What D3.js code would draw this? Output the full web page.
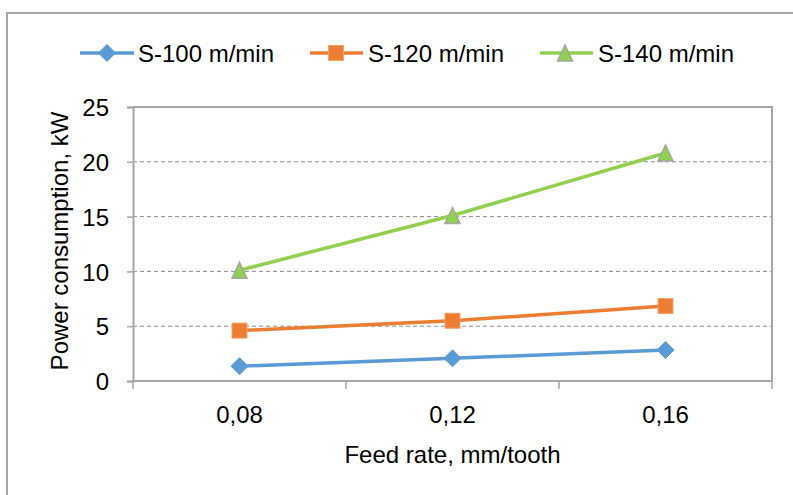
<!DOCTYPE html>
<html>
<head>
<meta charset="utf-8">
<script src="https://cdn.jsdelivr.net/npm/d3@7"></script>
<style>
  html, body { margin: 0; padding: 0; background: #fff; }
  svg { display: block; }
  text { font-family: "Liberation Sans", Arial, sans-serif; fill: #000; }
</style>
</head>
<body>
<svg id="chart" width="793" height="495"></svg>
<script>
const categories = ["0,08", "0,12", "0,16"];
const seriesNames = ["S-100 m/min", "S-120 m/min", "S-140 m/min"];
const s100 = [1.35, 2.07, 2.83];
const s120 = [4.6, 5.5, 6.84];
const s140 = [10.1, 15.1, 20.8];
const yTicks = [0, 5, 10, 15, 20, 25];
const xTitle = "Feed rate, mm/tooth";
const yTitle = "Power consumption, kW";

const series = [
  { name: seriesNames[0], values: s100, color: "#5B9BD5", marker: "diamond", stroke: "#5B9BD5" },
  { name: seriesNames[1], values: s120, color: "#ED7D31", marker: "square", stroke: "#F4A46C" },
  { name: seriesNames[2], values: s140, color: "#92D050", marker: "triangle", stroke: "#A5A5A5" }
];

const svg = d3.select("#chart");
const W = 793, H = 495;
const plot = { left: 133, right: 772, top: 107, bottom: 381 };

// outer chart frame (extends beyond the visible area)
svg.append("rect")
  .attr("x", 7).attr("y", 13).attr("width", W + 20).attr("height", H + 20)
  .attr("fill", "none").attr("stroke", "#A6A6A6").attr("stroke-width", 2);

const x = d3.scaleBand().domain(categories).range([plot.left, plot.right]).padding(0);
const y = d3.scaleLinear().domain([0, 25]).range([plot.bottom, plot.top]);

// gridlines
svg.append("g").selectAll("line")
  .data(yTicks.filter(t => t > 0 && t < 25))
  .join("line")
  .attr("x1", plot.left).attr("x2", plot.right)
  .attr("y1", d => y(d)).attr("y2", d => y(d))
  .attr("stroke", "#8C8C8C").attr("stroke-width", 1)
  .attr("stroke-dasharray", "4,3");

// plot area border top/right
svg.append("path")
  .attr("d", `M${plot.left},${y(25)}H${plot.right}V${plot.bottom}`)
  .attr("fill", "none").attr("stroke", "#A6A6A6").attr("stroke-width", 2);

// Y axis
const yAxis = svg.append("g")
  .attr("transform", `translate(${plot.left},0)`)
  .call(d3.axisLeft(y).tickValues(yTicks).tickSize(6).tickPadding(18).tickFormat(d3.format("d")));
yAxis.select(".domain").attr("stroke", "#A6A6A6").attr("stroke-width", 2);
yAxis.selectAll(".tick line").attr("stroke", "#A6A6A6").attr("stroke-width", 1.5);
yAxis.selectAll(".tick text").attr("font-size", 24).attr("font-family", "Liberation Sans, Arial, sans-serif").attr("fill", "#000").attr("dy", "0.36em");

// X axis labels
const xAxis = svg.append("g")
  .attr("transform", `translate(0,${plot.bottom})`)
  .call(d3.axisBottom(x).tickSize(0).tickPadding(25));
xAxis.select(".domain").attr("stroke", "#A6A6A6").attr("stroke-width", 2)
  .attr("d", `M${plot.left},0H${plot.right}`);
xAxis.selectAll(".tick text").attr("font-size", 24).attr("font-family", "Liberation Sans, Arial, sans-serif").attr("fill", "#000");

// X boundary ticks
const edges = categories.map(c => x(c)).concat([x.range()[1]]);
svg.append("g").selectAll("line")
  .data(edges)
  .join("line")
  .attr("x1", d => d).attr("x2", d => d)
  .attr("y1", plot.bottom).attr("y2", plot.bottom + 8)
  .attr("stroke", "#A6A6A6").attr("stroke-width", 1.5);

// axis titles
svg.append("text")
  .attr("x", (plot.left + plot.right) / 2).attr("y", 463)
  .attr("text-anchor", "middle").attr("font-size", 24)
  .text(xTitle);
svg.append("text")
  .attr("transform", `translate(68,${(plot.top + plot.bottom) / 2 - 3}) rotate(-90)`)
  .attr("text-anchor", "middle").attr("font-size", 24)
  .text(yTitle);

// markers
function markerPath(type) {
  if (type === "diamond") return d3.symbol(d3.symbolDiamond2 || d3.symbolSquare2, 150)();
  if (type === "square") return d3.symbol(d3.symbolSquare, 240)();
  return d3.symbol(d3.symbolTriangle, 130)();
}
function drawMarker(g, s, cx, cy) {
  if (s.marker === "diamond") {
    const r = 8.5;
    g.append("path").attr("d", `M${cx},${cy - r}L${cx + r},${cy}L${cx},${cy + r}L${cx - r},${cy}Z`)
      .attr("fill", s.color).attr("stroke", s.stroke).attr("stroke-width", 1);
  } else if (s.marker === "square") {
    const r = 7.5;
    g.append("rect").attr("x", cx - r).attr("y", cy - r).attr("width", 2 * r).attr("height", 2 * r)
      .attr("fill", s.color).attr("stroke", s.stroke).attr("stroke-width", 1);
  } else {
    const h = 16, w = 15;
    g.append("path").attr("d", `M${cx},${cy - h / 2}L${cx + w / 2},${cy + h / 2}L${cx - w / 2},${cy + h / 2}Z`)
      .attr("fill", s.color).attr("stroke", s.stroke).attr("stroke-width", 1.5);
  }
}

const line = d3.line()
  .x((d, i) => x(categories[i]) + x.bandwidth() / 2)
  .y(d => y(d));

series.forEach(s => {
  svg.append("path").datum(s.values)
    .attr("d", line).attr("fill", "none")
    .attr("stroke", s.color).attr("stroke-width", 3.5).attr("stroke-linejoin", "round");
});
series.forEach(s => {
  const g = svg.append("g");
  s.values.forEach((v, i) => drawMarker(g, s, x(categories[i]) + x.bandwidth() / 2, y(v)));
});

// legend
const legendItems = [
  { lx1: 80, lx2: 134, mx: 107, tx: 138 },
  { lx1: 310, lx2: 363, mx: 336, tx: 368 },
  { lx1: 540, lx2: 593, mx: 565, tx: 598 }
];
const ly = 53;
series.forEach((s, i) => {
  const it = legendItems[i];
  const g = svg.append("g");
  g.append("line").attr("x1", it.lx1).attr("x2", it.lx2).attr("y1", ly).attr("y2", ly)
    .attr("stroke", s.color).attr("stroke-width", 3.5);
  drawMarker(g, s, it.mx, ly);
  g.append("text").attr("x", it.tx).attr("y", ly).attr("dy", "0.36em")
    .attr("font-size", 24).text(s.name);
});
</script>
</body>
</html>
